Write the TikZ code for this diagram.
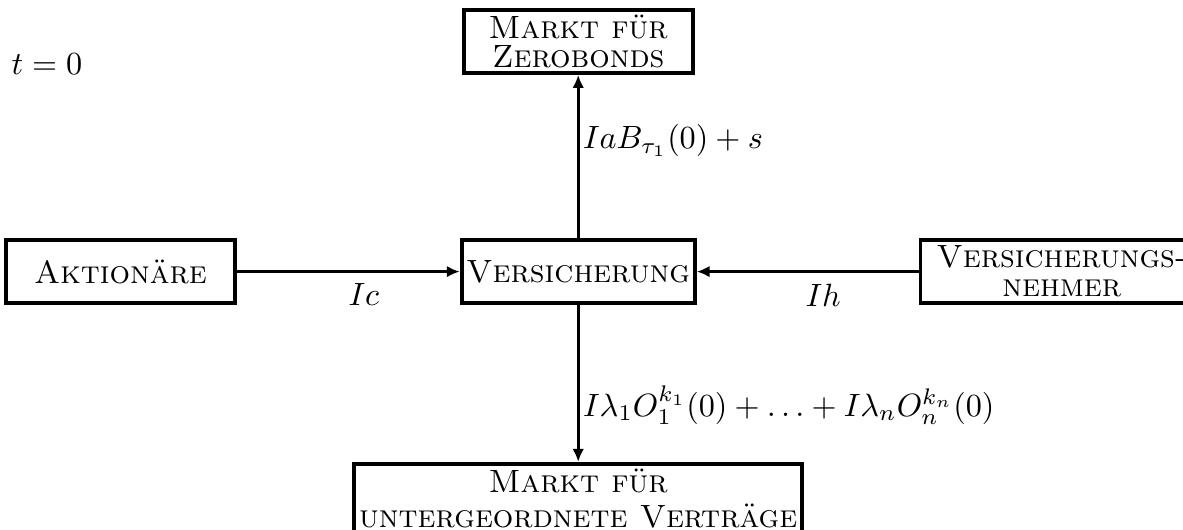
\documentclass[tikz,border=0pt]{standalone}
\usepackage{fontspec}
\usepackage{tikz}
\usetikzlibrary{positioning, arrows.meta}

\begin{document}
\begin{tikzpicture}[
        box/.style={rectangle, draw, line width=1.2pt, minimum width=2.5cm, minimum height=0.69cm, inner sep=1.5pt, align=center, font=\fontsize{10}{9}\selectfont\scshape},
        arrow/.style={-{Latex[length=4pt, width=3.6pt]}, line width=1pt},
        rlabel/.style={right, inner sep=1pt}
    ]
    \clip (0,0) rectangle (12.91,5.774);

    \node (time) [anchor=base west, inner sep=0pt] at (0.12,4.96) {$t=0$};

    \node (vers) [box] at (6.31,2.81) {Versicherung};
    \node (zero) [box, above=1.78cm of vers] {Markt für\\Zerobonds};
    \node (unter) [box, font=\fontsize{10}{11}\selectfont\scshape, text depth=4pt, below=1.71cm of vers] {Markt für\\untergeordnete Verträge};
    \node (akt) [box, left=2.43cm of vers] {Aktionäre};
    \node (vn) [box, inner xsep=5pt, right=2.42cm of vers] {Versicherungs-\\nehmer};

    \draw [arrow] (vers) -- node[rlabel, pos=0.6] {$IaB_{\tau_1}(0)+s$} (zero);
    \draw [arrow] (akt) -- node[below, pos=0.57] {$Ic$} (vers);
    \draw [arrow] (vn) -- node[below, pos=0.43] {$Ih$} (vers);
    \draw [arrow] (vers) -- node[rlabel, pos=0.64] {$I\lambda_1 O_1^{k_1}(0)+\ldots+I\lambda_n O_n^{k_n}(0)$} (unter);

\end{tikzpicture}
\end{document}
